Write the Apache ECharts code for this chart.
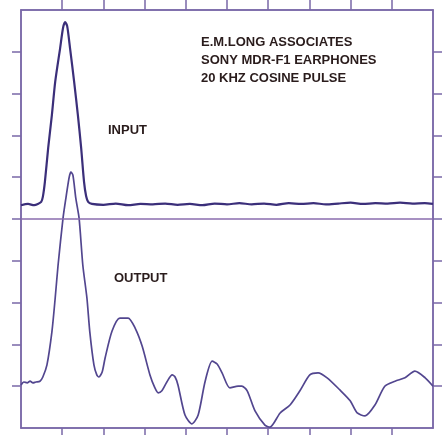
<!DOCTYPE html>
<html>
<head>
<meta charset="utf-8">
<script src="https://cdn.jsdelivr.net/npm/echarts@6/dist/echarts.min.js"></script>
<style>
html,body{margin:0;padding:0;background:#fff;}
#c{width:444px;height:435px;}
</style>
</head>
<body>
<div id="c"></div>
<script>
// Time in divisions (0..10), amplitude in divisions (0..10)
const inputX = [0,0.17,0.32,0.41,0.49,0.53,0.58,0.66,0.75,0.83,0.95,1.02,1.07,1.12,1.19,1.29,1.38,1.46,1.53,1.58,1.63,1.72,
  2.0,2.3,2.6,2.9,3.2,3.5,3.8,4.1,4.4,4.7,5.0,5.3,5.6,5.9,6.2,6.5,6.8,7.1,7.4,7.7,8.0,8.3,8.6,8.9,9.2,9.5,9.8,10];
const inputY = [5.33,5.36,5.33,5.36,5.41,5.53,5.89,6.70,7.49,8.28,9.09,9.57,9.71,9.62,9.09,8.28,7.49,6.70,5.89,5.55,5.41,5.36,
  5.34,5.37,5.33,5.36,5.35,5.37,5.34,5.36,5.33,5.37,5.35,5.38,5.35,5.37,5.34,5.38,5.36,5.38,5.35,5.37,5.39,5.36,5.38,5.37,5.39,5.37,5.38,5.36];

const outputX = [0,0.07,0.15,0.22,0.29,0.36,0.46,0.53,0.63,0.75,0.83,0.90,1.02,1.09,1.17,1.21,1.26,1.33,1.41,1.50,1.60,1.67,1.77,1.84,1.89,1.97,
  2.04,2.21,2.40,2.60,2.77,2.94,3.13,3.25,3.33,3.42,3.54,3.67,3.74,3.81,3.98,4.15,4.30,4.47,4.64,4.76,4.88,
  5.07,5.27,5.36,5.49,5.68,5.92,6.04,6.29,6.53,6.77,7.01,7.21,7.43,7.74,7.99,8.16,8.35,8.59,8.83,9.08,9.32,9.56,9.81,10];
const outputY = [1.03,1.10,1.08,1.12,1.08,1.10,1.12,1.22,1.51,2.30,3.11,3.90,5.02,5.50,6.00,6.12,6.05,5.50,5.02,3.90,3.11,2.30,1.51,1.27,1.22,1.34,
  1.67,2.32,2.63,2.63,2.39,1.96,1.27,0.96,0.84,0.89,1.10,1.27,1.22,1.03,0.31,0.10,0.31,1.12,1.60,1.53,1.32,
  0.96,1.00,1.00,0.89,0.41,0.07,0.02,0.36,0.55,0.89,1.27,1.32,1.20,0.91,0.65,0.36,0.29,0.55,1.00,1.12,1.20,1.36,1.20,1.00];

const tickValues = [1,2,3,4,5,6,7,8,9];
const headerLines = ['E.M.LONG ASSOCIATES','SONY MDR-F1 EARPHONES','20 KHZ COSINE PULSE'];
const inputLabel = 'INPUT';
const outputLabel = 'OUTPUT';

const frameColor = '#7a68a8';
const textColor = '#2a1c1c';

function axisBase(pos, tickLen){
  return {
    type:'value', min:0, max:10, interval:1, position:pos,
    axisLine:{show:true, onZero:false, lineStyle:{color:frameColor, width:1.5}},
    axisTick:{show:true, inside:false, length:tickLen, customValues:tickValues, lineStyle:{color:frameColor, width:1.5}},
    axisLabel:{show:false},
    splitLine:{show:false}
  };
}

const chart = echarts.init(document.getElementById('c'));
chart.setOption({
  animation:false,
  backgroundColor:'#ffffff',
  grid:{left:21, top:10, width:412, height:418, show:true, borderColor:frameColor, borderWidth:1.5, backgroundColor:'transparent'},
  xAxis:[axisBase('bottom',7), axisBase('top',10)],
  yAxis:[axisBase('left',9), axisBase('right',9)],
  series:[
    {
      type:'line', xAxisIndex:0, yAxisIndex:0, showSymbol:false, smooth:0.25,
      data: inputX.map((x,i)=>[x,inputY[i]]),
      lineStyle:{color:'#3b2f7a', width:2.2},
      markLine:{
        silent:true, symbol:'none', label:{show:false},
        lineStyle:{color:'#8a6cae', width:1.5, type:'solid'},
        data:[{yAxis:5}]
      }
    },
    {
      type:'line', xAxisIndex:0, yAxisIndex:0, showSymbol:false, smooth:0.25,
      data: outputX.map((x,i)=>[x,outputY[i]]),
      lineStyle:{color:'#52468f', width:1.7}
    }
  ],
  graphic:[
    ...headerLines.map((t,i)=>({
      type:'text', left:201, top:36+i*18,
      style:{text:t, fill:textColor, font:'bold 13px "Liberation Sans", Arial, sans-serif'}
    })),
    {type:'text', left:108, top:124, style:{text:inputLabel, fill:textColor, font:'bold 13px "Liberation Sans", Arial, sans-serif'}},
    {type:'text', left:114, top:272, style:{text:outputLabel, fill:textColor, font:'bold 13px "Liberation Sans", Arial, sans-serif'}}
  ]
});
</script>
</body>
</html>
